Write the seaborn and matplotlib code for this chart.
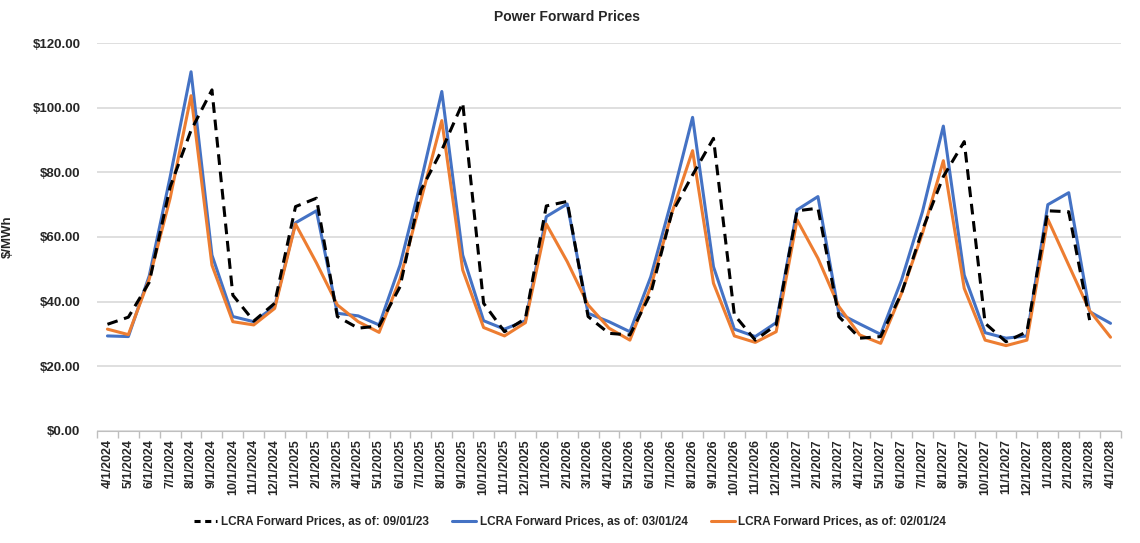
import seaborn as sns
import pandas as pd
import numpy as np
import matplotlib.pyplot as plt
from matplotlib.lines import Line2D

# Data ------------------------------------------------------------------------
months = [
    '4/1/2024', '5/1/2024', '6/1/2024', '7/1/2024', '8/1/2024', '9/1/2024',
    '10/1/2024', '11/1/2024', '12/1/2024', '1/1/2025', '2/1/2025', '3/1/2025',
    '4/1/2025', '5/1/2025', '6/1/2025', '7/1/2025', '8/1/2025', '9/1/2025',
    '10/1/2025', '11/1/2025', '12/1/2025', '1/1/2026', '2/1/2026', '3/1/2026',
    '4/1/2026', '5/1/2026', '6/1/2026', '7/1/2026', '8/1/2026', '9/1/2026',
    '10/1/2026', '11/1/2026', '12/1/2026', '1/1/2027', '2/1/2027', '3/1/2027',
    '4/1/2027', '5/1/2027', '6/1/2027', '7/1/2027', '8/1/2027', '9/1/2027',
    '10/1/2027', '11/1/2027', '12/1/2027', '1/1/2028', '2/1/2028', '3/1/2028',
    '4/1/2028',
]
prices_0901 = [
    33.0, 35.2, 46.0, 75.5, 93.0, 105.5, 42.0, 34.0, 39.5, 69.4, 72.0, 35.4,
    31.8, 32.5, 44.6, 74.5, 86.9, 101.5, 39.5, 30.7, 34.8, 69.6, 71.0, 35.4,
    30.2, 29.7, 42.6, 67.3, 79.2, 90.5, 35.9, 28.1, 32.8, 68.1, 68.9, 35.4,
    28.7, 29.2, 42.6, 62.2, 78.7, 89.5, 33.3, 27.6, 30.7, 68.1, 67.8, 34.3,
    np.nan,
]
prices_0301 = [
    29.4, 29.2, 48.0, 78.6, 111.1, 54.4, 35.4, 33.8, 38.5, 64.4, 68.1, 36.4,
    35.6, 32.8, 51.3, 77.1, 105.0, 54.4, 34.1, 31.5, 34.1, 66.3, 70.2, 36.4,
    33.8, 30.7, 47.7, 71.4, 97.0, 50.8, 31.5, 29.2, 33.5, 68.4, 72.5, 36.4,
    33.1, 29.9, 46.7, 67.8, 94.3, 48.2, 30.4, 28.7, 29.4, 70.0, 73.7, 36.9,
    33.3,
]
prices_0201 = [
    31.5, 29.8, 47.0, 72.0, 103.7, 51.3, 33.8, 32.8, 37.9, 64.0, 52.0, 39.0,
    33.8, 30.5, 47.0, 71.4, 96.0, 49.8, 32.0, 29.4, 33.5, 64.0, 52.4, 39.0,
    31.8, 28.1, 44.6, 67.3, 86.7, 45.7, 29.4, 27.4, 30.7, 65.3, 53.4, 38.5,
    29.7, 27.1, 42.6, 61.1, 83.6, 44.1, 28.1, 26.4, 28.1, 65.5, 51.3, 37.2,
    29.0,
]
labels = [
    'LCRA Forward Prices, as of: 09/01/23',
    'LCRA Forward Prices, as of: 03/01/24',
    'LCRA Forward Prices, as of: 02/01/24',
]
colors = ['black', '#4472C4', '#ED7D31']

df = pd.DataFrame({'Month': months, 'p0': prices_0901,
                   'p1': prices_0301, 'p2': prices_0201})

# Style -----------------------------------------------------------------------
sns.set_style('white')
plt.rcParams['font.family'] = ['Liberation Sans', 'DejaVu Sans']
plt.rcParams['font.weight'] = 'bold'

fig = plt.figure(figsize=(11.4, 5.43), dpi=100)
ax = fig.add_axes([0.0851, 0.2063, 0.8982, 0.7145])

# Plot ------------------------------------------------------------------------
for col, c in zip(['p1', 'p2', 'p0'], colors[1:] + colors[:1]):
    ls = (0, (3.5, 2.2)) if col == 'p0' else '-'
    sns.lineplot(data=df, x='Month', y=col, color=c, lw=2.2, ls=ls,
                 sort=False, ax=ax, zorder=3 if col == 'p0' else 2)

# Post Plot -------------------------------------------------------------------
ax.set_xlim(-0.5, len(months) - 0.5)
ax.set_ylim(0, 120)
ax.set_yticks(range(0, 121, 20))
ax.set_yticklabels([f'${v:.2f}' for v in range(0, 121, 20)], fontsize=9.5,
                   fontweight='bold')
ax.yaxis.grid(True, color='#D9D9D9', lw=1.2)
ax.set_axisbelow(True)
ax.set_xticks(range(len(months)))
ax.set_xticklabels(months, rotation=90, fontsize=9, fontweight='bold')
ax.set_xticks(np.arange(-0.5, len(months), 1), minor=True)
ax.tick_params(axis='x', which='major', length=0, pad=6)
ax.tick_params(axis='x', which='minor', length=5, color='#BFBFBF', width=1,
               bottom=True)
ax.tick_params(axis='y', length=0, pad=12)
for s in ['top', 'right', 'left']:
    ax.spines[s].set_visible(False)
ax.spines['bottom'].set_color('#BFBFBF')
ax.set_xlabel('')
ax.set_ylabel('$/MWh', fontsize=9.5, fontweight='bold')
ax.yaxis.set_label_coords(-0.081, 0.5)

fig.text(0.497, 0.968, 'Power Forward Prices', ha='center', va='center',
         fontsize=10, fontweight='bold')
handles = [Line2D([], [], color=c, lw=2.2,
                  ls=(0, (2, 1.5)) if c == 'black' else '-') for c in colors]
fig.legend(handles, labels, loc='center', bbox_to_anchor=(0.5, 0.038),
           ncol=3, frameon=False, handlelength=2.0, columnspacing=2.0,
           handletextpad=0.3, prop={'size': 8.5, 'weight': 'bold'})

fig.savefig('out.png', dpi=100)
